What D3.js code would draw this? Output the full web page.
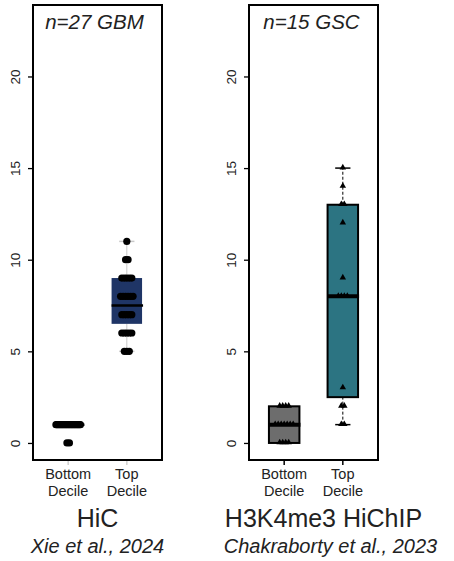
<!DOCTYPE html>
<html>
<head>
<meta charset="utf-8">
<script src="https://cdn.jsdelivr.net/npm/d3@7"></script>
<style>
  body { margin: 0; background: #fff; }
  svg text { font-family: "Liberation Sans", Arial, sans-serif; fill: #222; }
</style>
</head>
<body>
<svg id="chart" width="454" height="561"></svg>
<script>
// Data

const groups = ["Bottom\nDecile", "Top\nDecile"];
const yTicks = [0, 5, 10, 15, 20];

// HiC panel
const hicBottom = [0, 0, 1, 1, 1, 1, 1, 1, 1, 1, 1, 1, 1, 1, 1, 1, 1, 1, 1, 1, 1, 1, 1, 1, 1, 1, 1];
const hicTop = [5, 5, 5, 6, 6, 6, 6, 6, 7, 7, 7, 7, 7, 8, 8, 8, 8, 8, 8, 9, 9, 9, 9, 9, 10, 10, 11];
// [whisker low, Q1, median, Q3, whisker high]
const hicBottomStats = [1, 1, 1, 1, 1];
const hicTopStats = [5, 6.5, 7.5, 9, 11];

// HiChIP panel
const chipBottom = [0, 0, 0, 0, 1, 1, 1, 1, 1, 1, 1, 2, 2, 2, 2];
const chipTop = [1, 1, 2, 2, 3, 8, 8, 8, 9, 12, 13, 13, 14, 15, 8];
const chipBottomStats = [0, 0, 1, 2, 2];
const chipTopStats = [1, 2.5, 8, 13, 15];

const panels = [
    {
        left: 33, label: "n=27 GBM", title: "HiC", cite: "Xie et al., 2024",
        sets: [hicBottom, hicTop], stats: [hicBottomStats, hicTopStats],
        fills: [null, "#1f3566"], boxStroke: "none", whisker: "#c8c8c8",
        tickColor: "#d0d0d0", shape: "circle", median: 2.5,
        labelDx: -3, titleDx: 0, citeDx: 0
    },
    {
        left: 249, label: "n=15 GSC", title: "H3K4me3 HiChIP", cite: "Chakraborty et al., 2023",
        sets: [chipBottom, chipTop], stats: [chipBottomStats, chipTopStats],
        fills: ["#6d6d6d", "#2c7482"], boxStroke: "#000", whisker: "#000",
        tickColor: "#000", shape: "triangle", median: 4,
        labelDx: -2, titleDx: 10, citeDx: 17
    }
];

const svg = d3.select("#chart");
const panelW = 129, plotTop = 5, plotBottom = 460;

const y = d3.scaleLinear()
    .domain([-0.93, 23.9])
    .range([plotBottom, plotTop]);

panels.forEach(p => {
    const g = svg.append("g").attr("transform", `translate(${p.left},0)`);

    const x = d3.scaleLinear()
        .domain([0.4, 2.6])
        .range([0, panelW]);
    const halfBox = x(1.26) - x(1);

    // Y axis
    const yAxis = d3.axisLeft(y).tickValues(yTicks).tickSize(5).tickPadding(8);
    const ya = g.append("g").call(yAxis);
    ya.select(".domain").remove();
    ya.selectAll("line").attr("stroke", "#000").attr("stroke-width", 1.3);
    ya.selectAll("text")
        .attr("transform", "rotate(-90)")
        .attr("x", 0)
        .attr("y", -13)
        .attr("dy", 0)
        .style("text-anchor", "middle")
        .style("font-size", "13.5px")
        .style("font-family", "Liberation Sans, Arial, sans-serif");

    // X ticks and labels
    groups.forEach((name, i) => {
        const cx = x(i + 1);
        g.append("line")
            .attr("x1", cx).attr("x2", cx)
            .attr("y1", plotBottom).attr("y2", plotBottom + 5)
            .attr("stroke", p.tickColor).attr("stroke-width", 1.5);
        name.split("\n").forEach((line, j) => {
            g.append("text")
                .attr("x", cx)
                .attr("y", plotBottom + 19 + j * 17)
                .attr("text-anchor", "middle")
                .style("font-size", "14.5px")
                .text(line);
        });
    });

    // Boxes
    p.stats.forEach((s, i) => {
        const cx = x(i + 1);
        const [wlo, q1, med, q3, whi] = s;
        // whiskers
        [[wlo, q1], [q3, whi]].forEach(([a, b]) => {
            if (a === b) return;
            g.append("line")
                .attr("x1", cx).attr("x2", cx)
                .attr("y1", y(a)).attr("y2", y(b))
                .attr("stroke", p.whisker)
                .attr("stroke-width", 1)
                .attr("stroke-dasharray", p.whisker === "#000" ? "3,2" : null);
        });
        [wlo, whi].forEach(v => {
            if (v === q1 || v === q3) return;
            g.append("line")
                .attr("x1", cx - halfBox / 2).attr("x2", cx + halfBox / 2)
                .attr("y1", y(v)).attr("y2", y(v))
                .attr("stroke", p.whisker).attr("stroke-width", 1.5);
        });
        if (q3 > q1 && p.fills[i]) {
            g.append("rect")
                .attr("x", cx - halfBox)
                .attr("y", y(q3))
                .attr("width", halfBox * 2)
                .attr("height", y(q1) - y(q3))
                .attr("fill", p.fills[i])
                .attr("stroke", p.boxStroke)
                .attr("stroke-width", 2);
        }
    });

    // Points, spread side by side at equal values
    p.sets.forEach((vals, i) => {
        const cx = x(i + 1);
        const counts = d3.rollup(vals, v => v.length, d => d);
        const seen = new Map();
        const step0 = p.shape === "circle" ? 2.5 : 3;
        vals.forEach(v => {
            const k = counts.get(v);
            const idx = seen.get(v) || 0;
            seen.set(v, idx + 1);
            const step = k > 1 ? Math.min(step0, (halfBox * 2 - 6) / (k - 1)) : 0;
            const px = cx + (idx - (k - 1) / 2) * step;
            if (p.shape === "circle") {
                g.append("circle")
                    .attr("cx", px).attr("cy", y(v)).attr("r", 3.6)
                    .attr("fill", "#000");
            } else {
                g.append("path")
                    .attr("d", d3.symbol(d3.symbolTriangle, 18)())
                    .attr("transform", `translate(${px},${y(v) - 0.5})`)
                    .attr("fill", "#000");
            }
        });
    });

    // Medians
    p.stats.forEach((s, i) => {
        const cx = x(i + 1);
        g.append("line")
            .attr("x1", cx - halfBox).attr("x2", cx + halfBox + 1)
            .attr("y1", y(s[2])).attr("y2", y(s[2]))
            .attr("stroke", "#000").attr("stroke-width", p.median);
    });

    // Frame
    g.append("rect")
        .attr("x", 0).attr("y", plotTop)
        .attr("width", panelW).attr("height", plotBottom - plotTop)
        .attr("fill", "none")
        .attr("stroke", "#000").attr("stroke-width", 2);

    // Labels
    g.append("text")
        .attr("x", panelW / 2 + p.labelDx)
        .attr("y", 29)
        .attr("text-anchor", "middle")
        .style("font-size", "20.5px")
        .style("font-style", "italic")
        .text(p.label);

    g.append("text")
        .attr("x", x(1.5) + p.titleDx)
        .attr("y", 527)
        .attr("text-anchor", "middle")
        .style("font-size", "25px")
        .text(p.title);

    g.append("text")
        .attr("x", x(1.5) + p.citeDx)
        .attr("y", 553)
        .attr("text-anchor", "middle")
        .style("font-size", "20px")
        .style("font-style", "italic")
        .text(p.cite);
});
</script>
</body>
</html>
